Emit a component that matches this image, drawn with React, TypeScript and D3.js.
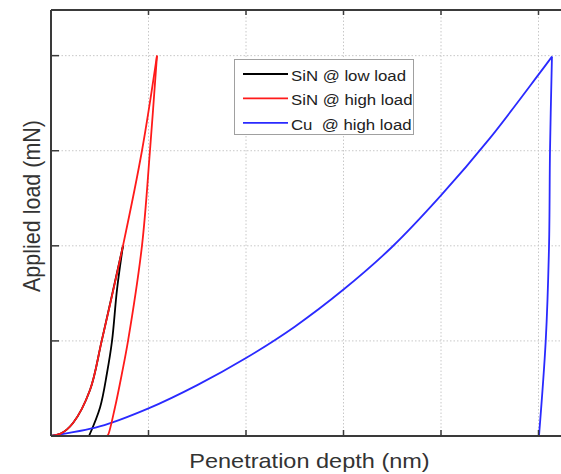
import { scaleLinear, line, curveCatmullRom, curveLinear } from "d3";

// load-displacement curves, x in tick units, y in mN
const sinLowLoading = [[0, 0], [0.1, 0.025], [0.226, 0.137], [0.4, 0.484], [0.52, 1.0], [0.738, 2.0]];
const sinLowUnloading = [[0.738, 2.0], [0.677, 1.54], [0.626, 1.0], [0.574, 0.66], [0.503, 0.3], [0.39, 0]];

const sinHighLoading = [[0, 0], [0.1, 0.025], [0.226, 0.137], [0.4, 0.484], [0.52, 1.0], [0.738, 2.0], [0.933, 3.0], [1.087, 4.0]];
const sinHighUnloading = [[1.087, 4.0], [1.015, 3.0], [0.933, 2.0], [0.79, 1.0], [0.728, 0.66], [0.656, 0.3], [0.585, 0.01], [0.574, 0]];
const sinHighReturn = [[0.574, 0], [0, 0]];

const cuLoading = [[0, 0], [0.5, 0.1], [1.0, 0.29], [1.5, 0.535], [2.0, 0.82], [2.5, 1.15], [3.0, 1.54], [3.5, 1.99], [4.0, 2.53], [4.5, 3.13], [5.0, 3.8], [5.138, 3.99]];
const cuUnloading = [[5.138, 3.99], [5.118, 3.0], [5.108, 2.0], [5.074, 1.0], [5.005, 0]];

const xTicks = [1, 2, 3, 4, 5];
const yTicks = [1, 2, 3, 4];

const legendLabels = ["SiN @ low load", "SiN @ high load", "Cu  @ high load"];
const legendColors = ["#000000", "#ff1a1a", "#2a2aff"];

const App = () => {
  const W = 561, H = 474;
  const left = 51, top = 10, bottom = 436;
  const x = scaleLinear().domain([0, 5.3]).range([left, left + 5.3 * 97.5]);
  const y = scaleLinear().domain([0, 4.48]).range([bottom, top]);
  const right = x(5.3);

  const smooth = line().x(d => x(d[0])).y(d => y(d[1])).curve(curveCatmullRom.alpha(0.5));
  const straight = line().x(d => x(d[0])).y(d => y(d[1])).curve(curveLinear);

  const axisColor = "#3a3a3a";
  const font = "'Liberation Sans', Arial, sans-serif";
  const stretch = 1.12; // the original picture is a bit wider than tall

  return (
    <svg width={W} height={H} style={{ position: "absolute", left: 0, top: 0 }}>
      <rect width={W} height={H} fill="#fff" />
      {/* grid */}
      {xTicks.map(t => (
        <line key={"gx" + t} x1={x(t)} x2={x(t)} y1={top} y2={bottom} stroke="#c8c8c8" strokeDasharray="1.5,2" />
      ))}
      {yTicks.map(t => (
        <line key={"gy" + t} x1={left} x2={right} y1={y(t)} y2={y(t)} stroke="#c8c8c8" strokeDasharray="1.5,2" />
      ))}

      {/* curves */}
      <path d={smooth(sinLowLoading)} fill="none" stroke={legendColors[0]} strokeWidth={1.8} />
      <path d={smooth(sinLowUnloading)} fill="none" stroke={legendColors[0]} strokeWidth={1.8} />
      <path d={smooth(cuLoading)} fill="none" stroke={legendColors[2]} strokeWidth={1.8} />
      <path d={smooth(cuUnloading)} fill="none" stroke={legendColors[2]} strokeWidth={1.8} />
      <path d={smooth(sinHighLoading)} fill="none" stroke={legendColors[1]} strokeWidth={1.8} />
      <path d={smooth(sinHighUnloading)} fill="none" stroke={legendColors[1]} strokeWidth={1.8} />
      <path d={straight(sinHighReturn)} fill="none" stroke={legendColors[1]} strokeWidth={1.8} />

      {/* frame and ticks */}
      <line x1={left} x2={right} y1={bottom} y2={bottom} stroke={axisColor} strokeWidth={2} />
      <line x1={left} x2={right} y1={top} y2={top} stroke={axisColor} strokeWidth={2} />
      <line x1={left} x2={left} y1={top} y2={bottom} stroke={axisColor} strokeWidth={2} />
      {xTicks.map(t => (
        <g key={"tx" + t}>
          <line x1={x(t)} x2={x(t)} y1={bottom} y2={bottom - 6} stroke={axisColor} strokeWidth={1.5} />
          <line x1={x(t)} x2={x(t)} y1={top} y2={top + 5} stroke={axisColor} strokeWidth={1.5} />
        </g>
      ))}
      {yTicks.map(t => (
        <line key={"ty" + t} x1={left} x2={left + 8} y1={y(t)} y2={y(t)} stroke={axisColor} strokeWidth={1.5} />
      ))}

      {/* legend */}
      <rect x={234.5} y={59.5} width={179} height={75} fill="#fff" stroke="#a0a0a0" strokeWidth={1} />
      {legendLabels.map((lab, i) => {
        const ly = 74 + i * 24.4;
        return (
          <g key={lab}>
            <line x1={243} x2={288} y1={ly} y2={ly} stroke={legendColors[i]} strokeWidth={1.8} />
            <text transform={`translate(291,${ly + 6.8}) scale(${stretch},1)`} fontFamily={font} fontSize={15} fill="#222" style={{ whiteSpace: "pre" }}>{lab}</text>
          </g>
        );
      })}

      {/* axis titles */}
      <text transform={`translate(309.5,468) scale(${stretch},1)`} textAnchor="middle" fontFamily={font} fontSize={21} fill="#333">Penetration depth (nm)</text>
      <text transform={`translate(40,206) scale(${stretch},1) rotate(-90)`} textAnchor="middle" fontFamily={font} fontSize={21.5} fill="#333">Applied load (mN)</text>
    </svg>
  );
};

export default App;
